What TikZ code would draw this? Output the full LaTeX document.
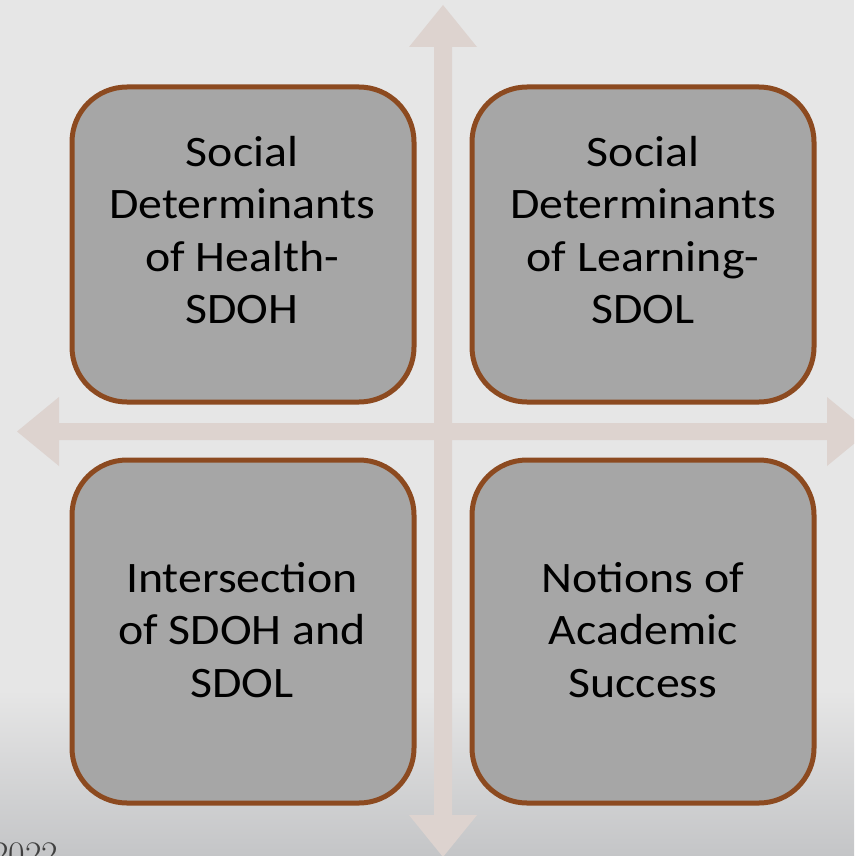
\documentclass[tikz,border=0pt]{standalone}
\usepackage{fontspec}
\newfontfamily\boxfont[FakeStretch=1.1]{Carlito}
\usetikzlibrary{positioning}

\definecolor{bgtop}{HTML}{E6E6E6}
\definecolor{bgbottom}{HTML}{C4C5C7}
\definecolor{armfill}{HTML}{DDD3CF}
\definecolor{boxedge}{HTML}{8C4A20}
\definecolor{boxfill}{HTML}{A6A6A6}
\definecolor{yeartext}{HTML}{404040}

\tikzset{
	quadbox/.style={draw=boxedge, line width=5pt, fill=boxfill, rounded corners=55pt, minimum width=342pt, inner sep=0pt},
	quadtext/.style={font=\boxfont\fontsize{43.5}{52.5}\selectfont, align=center, inner sep=0pt},
	crossarm/.style={fill=armfill}
}

\begin{document}
\begin{tikzpicture}[x=1pt, y=-1pt]
			%%%%% START %%%%%
			
			\useasboundingbox (0, 0) rectangle (854, 856);
			\clip (0, 0) rectangle (854, 856);
			\fill[bgtop] (0, 0) rectangle (854, 856);
			\shade[top color=bgtop, bottom color=bgbottom] (0, 690) rectangle (854, 856);
			
			% the cross
			\fill[crossarm] (434, 47) -- (409, 47) -- (443, 5) -- (477, 47) -- (452, 47) -- (452, 815) -- (477, 815) -- (443, 857) -- (409, 815) -- (434, 815) -- cycle;
			\fill[crossarm] (59, 423) -- (59, 397) -- (17, 431.5) -- (59, 466) -- (59, 440) -- (827, 440) -- (827, 466) -- (869, 431.5) -- (827, 397) -- (827, 423) -- cycle;
			
			% the four boxes
			\node[quadbox, minimum height=315pt] (sdoh) at (243, 244.5) {};
			\node[quadbox, minimum height=315pt] (sdol) at (643, 244.5) {};
			\node[quadbox, minimum height=343pt] (inter) at (243, 631.5) {};
			\node[quadbox, minimum height=343pt] (success) at (643, 631.5) {};
			
			\node[quadtext] (sdohtxt) at (242, 230) {Social\\Determinants\\of Health-\\SDOH};
			\node[quadtext] (sdoltxt) at (643, 230) {Social\\Determinants\\of Learning-\\SDOL};
			\node[quadtext] (intertxt) at (242, 630) {Intersection\\of SDOH and\\SDOL};
			\node[quadtext] (successtxt) at (643, 630) {Notions of\\Academic\\Success};
			
			\node[anchor=base west, inner sep=0pt, text=yeartext, font=\fontsize{36}{40}\selectfont] (year) at (-8, 866) {2022};
			
			%%%%% END %%%%%
\end{tikzpicture}
\end{document}
